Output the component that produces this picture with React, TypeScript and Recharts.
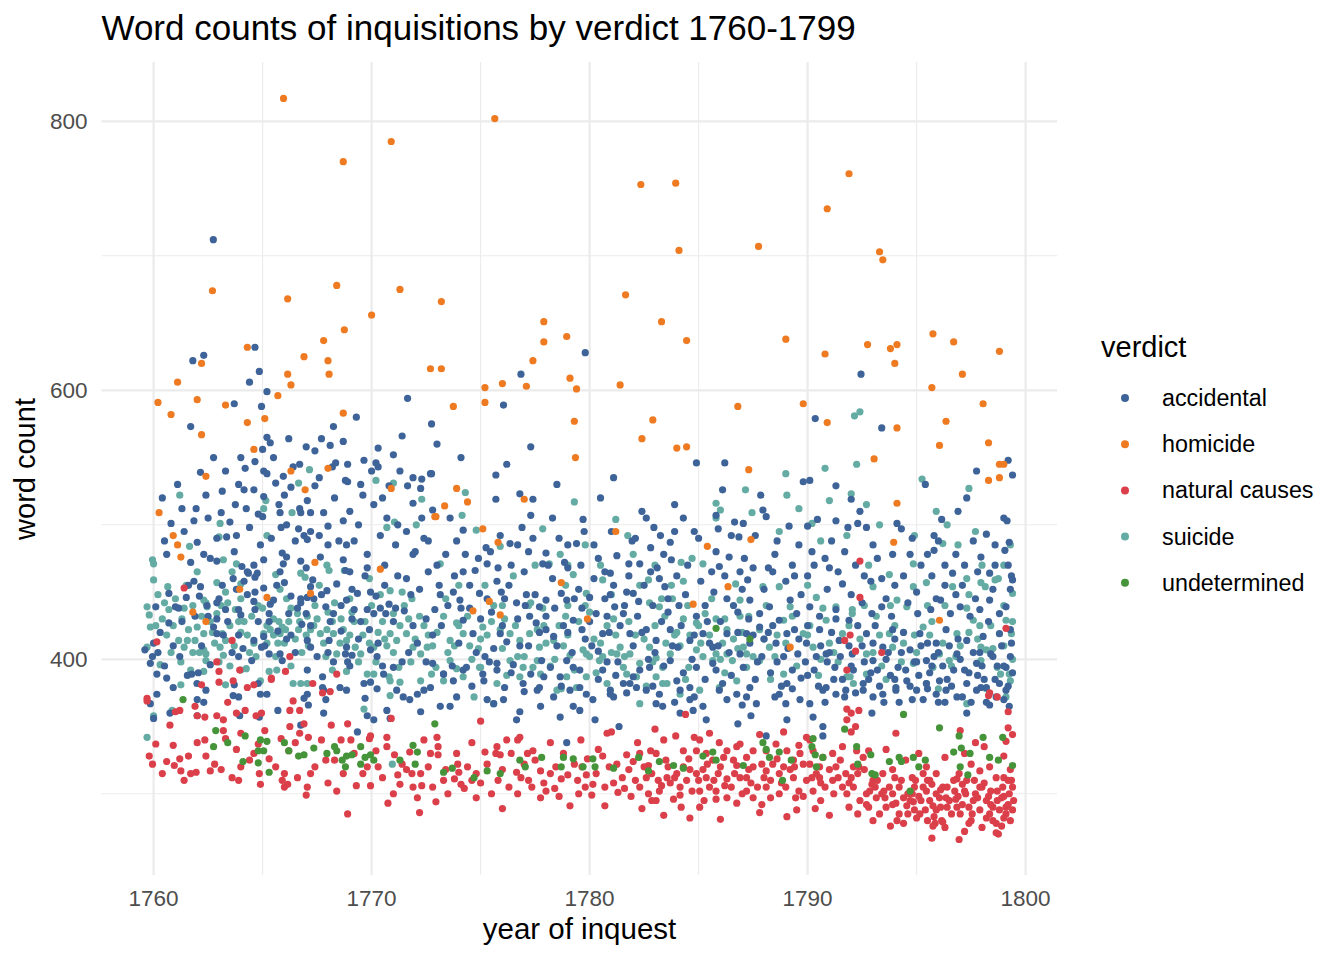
import { ScatterChart, Scatter, XAxis, YAxis, CartesianGrid, Legend } from "recharts";

// [year of inquest, word count]
const accidental: [number, number][] = [
  [1762.74,712],[1761.8,622],[1762.3,626],[1764.65,632],[1764.85,614],[1764.4,606],[1765.2,599],[1763.7,590],[1764.95,588],[1771.65,594],[1776.05,589],[1776.85,612],[1779.8,628],[1792.45,612],[1790.35,579],[1793.4,572],[1786.2,546],[1797.75,540],[1799.2,548],[1799.4,537],[1795.4,530],
  [1761.7,573],[1765.2,565],[1765.35,561],[1766.2,564],[1767.0,558],[1767.7,564],[1768.1,559],[1768.7,562],[1769.3,580],[1768.25,573],[1770.3,557],[1771.4,566],[1772.75,575],[1762.75,550],[1765.0,556],[1764.2,542],[1764.65,547],[1762.15,539],[1765.05,540],[1765.2,538],[1765.95,536],[1766.4,543],[1766.7,545],[1766.3,528],[1765.6,531],[1767.4,529],[1768.2,543],[1768.35,546],[1768.8,533],[1768.9,532],[1769.65,548],[1770.2,546],[1770.3,543],[1769.6,522],[1770.8,529],[1771.65,529],[1772.3,534],[1772.7,538],[1772.25,527],
  [1763.15,525],[1764.15,526],[1764.6,526],[1761.95,512],[1761.85,503],[1760.8,501],[1763.1,509],[1763.75,515],[1764.25,512],[1765.05,521],[1765.0,506],[1765.75,515],[1765.8,509],[1766.7,512],[1766.75,509],[1767.2,509],[1767.05,518],[1767.8,509],[1768.0,499],[1768.7,503],[1766.65,497],[1766.9,492],[1767.05,489],[1767.6,492],[1768.85,485],[1769.2,488],[1765.85,498],[1763.8,492],[1763.35,491],[1762.9,490],[1763.7,480],[1762.3,478],[1762.6,475],[1762.9,473],[1761.7,472],[1760.6,478],
  [1764.05,469],[1764.3,465],[1764.65,461],[1764.75,464],[1765.05,474],[1765.9,479],[1766.1,476],[1765.95,471],[1766.75,473],[1767.0,468],[1767.65,476],[1768.7,474],[1768.8,466],[1761.85,458],[1762.15,454],[1760.7,449],[1762.9,442],[1763.15,455],[1763.65,460],[1764.15,458],[1764.35,464],[1764.65,450],[1765.05,453],[1765.65,455],[1766.75,445],[1767.05,446],[1767.2,454],[1767.95,451],[1769.1,452],[1769.35,449],[1769.95,450],
  [1760.1,439],[1761.0,439],[1761.15,438],[1762.45,440],[1763.3,437],[1762.9,430],[1763.9,437],[1764.0,433],[1764.6,443],[1764.65,437],[1765.35,441],[1765.3,434],[1766.2,434],[1766.75,442],[1767.35,445],[1768.25,434],[1768.85,444],[1769.2,437],[1769.8,437],[1770.1,434],[1770.4,438],[1770.65,434],
  [1762.75,424],[1762.9,419],[1764.6,414],[1765.05,417],[1765.3,404],[1765.8,404],[1765.9,399],[1766.1,415],[1767.05,414],[1767.2,409],[1768.05,414],[1768.25,398],[1768.85,409],[1769.1,403],[1769.95,407],[1770.25,402],[1767.05,392],[1767.75,387],[1768.55,379],[1768.85,377],[1769.65,382],[1769.95,383],[1763.7,381],[1763.9,372],[1761.75,389],[1761.99,382],[1760.6,386],[1760.9,379],[1760.15,389],[1759.95,402],[1759.85,397],[1759.6,407],[1760.0,412],[1761.55,388],[1764.8,382],[1767.05,374],[1767.8,377],[1764.9,374],
  [1760.15,374],[1759.85,367],[1760.0,356],[1762.05,390],[1762.4,377],[1762.0,370],[1762.3,368],[1762.0,358],[1760.75,360],[1763.65,373],[1763.95,358],[1764.85,357],[1764.95,409],[1763.9,402],[1765.2,374],[1765.7,362],[1766.75,351],[1766.9,371],[1767.1,366],[1767.75,379],[1767.9,370],[1767.8,360],[1768.8,404],[1769.35,346],[1769.7,371],[1770.25,378],[1769.8,358],[1770.1,355],[1770.7,362],[1770.85,356],[1770.55,389],[1771.0,394],[1771.15,377],[1771.45,372],[1771.75,370],[1772.25,361],[1772.1,374],[1772.4,377],[1772.7,379],[1773.15,365],[1773.3,389],[1773.75,384],[1773.6,365],[1774.2,392],[1775.15,384],[1775.3,370],[1775.6,367],[1775.75,392],[1776.05,370],[1776.65,355],[1776.95,382],[1777.3,389],[1777.6,377],[1777.75,365],[1778.35,372],[1778.65,387],[1779.1,377],[1779.25,365],[1778.2,394],[1778.95,399],[1779.55,392],[1778.95,338],[1778.65,357],[1776.8,361],[1779.55,362],
  [1777.3,558],[1775.7,537],[1775.7,519],[1776.8,523],[1777.4,519],[1777.3,507],[1772.75,538],[1772.8,511],[1774.2,496],[1773.9,488],[1774.75,466],[1774.2,465],[1775.3,471],[1775.25,483],[1775.45,480],[1776.35,486],[1776.7,485],[1777.2,480],[1778.0,479],[1777.85,471],[1779.4,486],[1779.0,485],[1778.85,472],[1779.7,504],[1779.75,495],[1780.95,464],[1780.7,465],[1781.25,477],[1781.8,471],[1782.3,471],[1781.95,488],[1782.8,483],[1783.25,492],[1783.7,487],[1783.75,474],[1782.95,498],[1784.3,505],[1784.8,495],[1786.1,526],[1785.8,507],[1785.9,497],[1786.65,502],[1787.05,501],[1786.85,491],[1786.9,465],[1785.8,480],[1785.95,469],[1787.25,459],[1783.2,460],[1783.45,454],[1782.0,449],[1782.25,443],[1780.95,448],[1781.15,439],[1780.0,446],[1779.65,438],[1778.95,444],[1778.7,449],[1778.0,444],[1777.7,439],[1777.05,440],[1776.65,442],[1775.95,450],[1775.75,458],[1774.95,449],[1773.75,450],[1774.05,444],[1773.15,448],[1772.9,437],
  [1774.2,429],[1774.65,419],[1775.9,419],[1776.2,413],[1777.25,432],[1777.55,427],[1778.0,422],[1778.35,417],[1779.25,429],[1779.65,422],[1780.3,434],[1780.6,419],[1781.55,434],[1781.85,419],[1782.6,422],[1783.05,414],[1783.7,422],[1784.05,409],[1784.6,414],[1785.2,419],[1785.65,409],[1786.3,419],[1786.9,404],[1787.35,412],[1772.8,397],[1773.3,389],[1774.35,394],[1775.1,389],[1775.75,397],[1776.1,379],[1777.0,376],[1777.7,379],[1779.25,394],[1779.55,379],[1780.6,392],[1780.95,374],[1781.55,382],[1782.0,387],[1782.75,394],[1783.2,374],[1783.7,399],[1784.0,384],[1784.6,379],[1784.9,394],[1785.65,397],[1786.1,382],[1787.05,394],[1787.35,379],
  [1784.9,546],[1780.5,520],[1782.4,510],[1783.9,515],[1781.1,535],[1778.5,530],[1776.2,545],[1774.1,550],[1773.0,560],[1771.0,552],[1770.0,540],[1771.9,516],[1773.6,505],[1776.9,498],[1778.3,505],[1780.2,485],[1782.6,505],
  [1787.85,522],[1789.8,532],[1790.1,533],[1791.3,529],[1792.0,519],[1792.4,510],[1790.0,499],[1787.95,511],[1788.1,506],[1789.15,499],[1790.45,504],[1791.3,503],[1791.85,498],[1792.3,501],[1792.7,498],[1794.1,501],[1794.3,497],[1796.15,504],[1795.8,492],[1795.8,481],[1798.2,493],[1799.15,503],[1799.25,487],[1799.05,481],[1797.95,476],[1795.7,462],[1796.3,455],[1796.65,464],[1798.35,464],[1799.35,462],[1799.4,459],
  [1797.3,520],[1796.9,510],[1793.0,485],[1794.7,478],[1792.2,470],[1790.8,475],[1789.6,485],[1788.5,478],[1787.6,492],[1799.0,505],[1798.6,470],[1797.6,488],[1796.8,478],[1795.2,470],[1793.4,460],[1791.6,456],[1790.0,462],[1788.2,468],[1786.4,476],
  [1787.35,444],[1787.8,434],[1788.25,439],[1788.7,429],[1789.2,444],[1789.5,434],[1790.1,439],[1790.55,432],[1791.3,437],[1791.9,429],[1792.5,442],[1792.95,434],[1793.4,439],[1793.85,432],[1794.6,442],[1795.05,434],[1795.65,437],[1796.1,444],[1796.55,434],[1797.0,439],[1797.45,432],[1797.9,437],[1798.35,444],[1798.8,434],[1799.1,439],
  [1787.2,419],[1787.8,424],[1788.55,412],[1789.05,419],[1789.55,404],[1789.95,412],[1790.55,422],[1790.85,404],[1791.25,394],[1791.45,414],[1792.05,404],[1792.7,419],[1793.0,399],[1793.45,409],[1793.9,422],[1794.15,394],[1794.7,407],[1795.15,419],[1795.45,399],[1795.9,412],[1796.35,422],[1796.85,404],[1797.3,414],[1797.75,397],[1798.05,417],[1798.4,404],[1798.8,419],[1799.1,394],[1799.35,412],[1789.05,382],[1790.7,377],[1792.55,382],[1794.05,379],[1796.05,384],[1797.95,379],[1798.8,382],
  [1780.25,355],[1781.35,350],[1785.35,355],[1786.8,352],[1787.4,358],[1789.05,355],[1790.25,357],[1790.7,350],[1790.7,343],[1788.1,343],[1792.95,360],[1797.3,360],[1798.35,366],[1799.25,365],[1784.15,360],[1784.75,362],[1785.2,365],[1783.05,367],[1783.35,365],[1781.85,382],[1782.15,379],[1782.6,377],[1780.95,377],[1781.1,372],[1779.85,374],[1780.15,370],[1784.15,377],[1784.6,370],[1785.95,377],[1786.3,370],[1786.75,374],[1787.2,372],[1787.65,367],[1788.7,374],[1789.0,367],[1789.65,370],[1790.1,367],[1790.85,379],[1791.3,374],[1791.75,377],[1792.55,377],[1793.0,372],[1793.45,374],[1794.05,377],[1794.55,384],[1795.0,377],[1795.45,382],[1795.9,374],[1796.35,377],[1796.85,372],[1797.3,382],[1797.75,377],[1798.2,379],[1798.65,372],[1799.1,377],
  [1760.3,420],[1760.5,395],[1760.9,410],[1761.3,428],[1761.5,446],[1761.9,432],[1762.2,410],[1762.6,396],[1763.0,445],[1763.4,428],[1763.6,405],[1763.9,418],[1764.3,448],[1764.5,399],[1764.8,428],[1765.1,410],[1765.5,444],[1765.7,421],[1766.0,457],[1766.3,447],[1766.5,405],[1766.8,426],[1767.0,434],[1767.3,459],[1767.5,402],[1767.9,439],[1768.1,428],[1768.4,456],[1768.6,421],[1768.9,398],[1769.1,430],[1769.4,415],[1769.7,462],[1769.9,422],[1770.2,447],[1770.5,395],[1770.8,441],[1771.0,428],[1771.2,462],[1771.5,436],[1771.7,405],[1771.9,425],[1772.2,452],[1772.5,430],[1772.8,418],
  [1760.4,520],[1761.1,530],[1761.4,495],[1762.0,487],[1762.5,505],[1763.3,540],[1763.9,530],[1764.4,498],[1764.9,485],[1765.4,490],[1766.0,522],[1766.5,488],[1767.2,495],[1767.6,535],[1768.3,520],[1768.5,488],[1769.0,510],[1769.4,500],[1769.8,478],[1770.1,515],[1770.4,492],[1770.7,505],[1771.1,485],[1771.3,540],[1771.6,495],[1771.9,478],[1772.3,505],[1772.6,488],[1769.0,465],[1770.6,470],[1771.6,460],[1772.0,480],
  [1773.0,470],[1773.2,425],[1773.5,440],[1773.8,462],[1774.0,412],[1774.3,478],[1774.5,438],[1774.8,405],[1775.0,430],[1775.3,445],[1775.6,408],[1775.8,468],[1776.0,425],[1776.3,455],[1776.5,396],[1776.7,430],[1777.0,465],[1777.2,410],[1777.5,448],[1777.8,399],[1778.0,432],[1778.3,460],[1778.5,410],[1778.8,425],[1779.0,468],[1779.2,405],[1779.5,452],[1779.8,415],[1780.0,428],[1780.2,460],[1780.4,406],[1780.7,445],[1780.9,420],[1781.1,455],[1781.3,398],[1781.6,440],[1781.8,462],[1782.0,410],[1782.2,432],[1782.5,455],[1782.7,400],[1782.9,440],[1783.1,468],[1783.3,428],[1783.6,445],[1783.8,410],[1784.0,462],[1784.2,425],[1784.4,448],[1784.7,400],[1784.9,432],[1785.1,458],[1785.3,440],[1785.5,412],[1785.7,450],[1786.0,428],[1786.2,462],[1786.4,405],[1786.6,440],[1786.8,420],[1787.0,452],[1787.3,430],[1787.5,468],
  [1787.6,385],[1787.9,402],[1788.0,415],[1788.3,390],[1788.4,425],[1788.6,398],[1788.8,380],[1789.1,408],[1789.3,392],[1789.4,422],[1789.7,386],[1789.9,398],[1790.0,425],[1790.3,392],[1790.5,380],[1790.6,410],[1790.9,398],[1791.1,420],[1791.2,385],[1791.5,402],[1791.7,372],[1791.9,410],[1792.1,392],[1792.3,425],[1792.6,398],[1792.8,385],[1793.0,412],[1793.2,392],[1793.3,380],[1793.6,400],[1793.8,388],[1794.0,415],[1794.2,368],[1794.3,405],[1794.5,392],[1794.7,380],[1794.9,398],[1795.1,388],[1795.3,370],[1795.5,412],[1795.6,390],[1795.8,402],[1796.0,368],[1796.2,395],[1796.4,385],[1796.5,410],[1796.7,392],[1797.0,400],[1797.1,372],[1797.4,390],[1797.6,405],[1797.8,388],[1798.0,395],[1798.2,368],[1798.5,402],[1798.6,385],[1798.9,410],[1799.0,395],[1799.2,380],[1799.3,402],[1799.4,390],
  [1780.4,385],[1780.8,398],[1781.2,388],[1781.7,375],[1782.3,392],[1782.9,380],[1783.4,395],[1783.9,368],[1784.3,390],[1784.8,372],[1785.3,385],[1785.8,392],[1786.5,388],[1787.0,366],[1776.4,390],[1777.9,387],[1778.7,380],[1775.4,398],[1774.6,380],[1773.9,372],[1772.5,398],
  [1788.0,452],[1788.4,465],[1789.0,458],[1789.7,448],[1790.3,470],[1790.9,452],[1791.4,465],[1792.0,448],[1792.9,458],[1793.6,445],[1794.4,462],[1795.0,450],[1795.9,445],[1796.8,448],[1797.2,470],[1797.7,445],[1798.5,452],[1799.2,470],[1791.1,488],[1789.3,470],[1793.9,478],[1796.0,488],
  [1760.2,405],[1760.7,427],[1761.2,402],[1761.6,455],[1762.1,447],[1762.5,432],[1763.2,418],[1763.8,452],[1764.1,408],[1764.6,470],[1765.3,428],[1765.8,465],[1766.3,418],[1766.6,438],[1767.2,425],[1767.7,448],[1768.0,405],[1768.6,440],[1769.0,395],[1769.5,428],[1769.8,468],[1770.3,412],[1770.6,455],[1771.1,438],[1771.4,398],[1771.8,448],[1772.1,412],[1772.6,465],
  [1760.5,488],[1761.3,512],[1762.4,522],[1763.5,502],[1764.0,550],[1764.8,508],[1765.5,550],[1766.1,500],[1767.4,555],[1768.0,485],[1768.9,545],[1769.5,530],[1770.5,520],[1771.2,500],[1771.9,535],[1772.4,490],
  [1773.1,455],[1773.4,478],[1773.7,395],[1774.1,438],[1774.5,455],[1774.9,475],[1775.2,402],[1775.5,435],[1775.9,492],[1776.1,445],[1776.4,470],[1776.8,410],[1777.1,448],[1777.4,490],[1777.7,420],[1778.1,470],[1778.4,438],[1778.6,490],[1779.0,420],[1779.3,445],[1779.6,470],[1780.1,410],[1780.4,475],[1780.8,432],[1781.0,495],[1781.4,425],[1781.7,450],[1782.1,490],[1782.4,420],[1782.8,465],[1783.0,405],[1783.4,478],[1783.6,435],[1783.9,495],[1784.1,440],[1784.5,470],[1784.8,418],[1785.0,490],[1785.4,428],[1785.6,465],[1785.9,410],[1786.3,445],[1786.5,492],[1786.8,435],[1787.1,475],[1787.5,418],
  [1787.7,398],[1788.2,420],[1788.5,372],[1788.9,402],[1789.3,378],[1789.6,415],[1790.0,388],[1790.4,402],[1790.8,368],[1791.0,405],[1791.3,430],[1791.6,385],[1792.0,395],[1792.2,375],[1792.5,410],[1792.9,390],[1793.1,425],[1793.5,368],[1793.7,405],[1794.0,385],[1794.4,420],[1794.8,370],[1795.0,398],[1795.2,410],[1795.5,378],[1795.7,395],[1796.0,405],[1796.3,368],[1796.6,380],[1796.9,415],[1797.2,392],[1797.5,368],[1797.9,405],[1798.1,385],[1798.3,428],[1798.7,395],[1799.0,370],[1799.3,422],
  [1788.6,488],[1789.4,462],[1790.2,480],[1791.0,468],[1791.7,480],[1792.6,462],[1793.2,475],[1794.0,455],[1794.8,490],[1795.5,478],[1796.3,470],[1797.1,455],[1797.8,465],[1798.6,485],[1799.3,452],
];

const homicide: [number, number][] = [
  [1765.96,817],[1770.9,785],[1768.7,770],[1775.65,802],[1782.35,753],[1783.95,754],[1784.1,704],[1790.9,735],[1791.9,761],[1787.75,707],[1793.3,703],[1793.45,697],
  [1762.7,674],[1766.15,668],[1768.4,678],[1771.3,675],[1773.2,666],[1781.65,671],[1783.3,651],[1784.45,637],[1789.0,638],[1790.8,627],[1792.75,634],[1794.1,634],[1793.8,631],[1794.0,620],[1795.75,642],[1796.7,636],[1798.8,629],[1797.1,612],[1795.7,602],
  [1770.0,656],[1768.75,645],[1767.8,637],[1766.9,625],[1768.0,622],[1766.15,612],[1766.3,604],[1768.05,612],[1764.3,632],[1762.2,620],[1761.1,606],[1762.0,593],[1760.2,591],[1763.3,589],[1765.7,596],[1772.7,616],[1773.2,616],[1775.2,602],[1776.0,605],[1775.2,591],[1773.75,588],[1777.9,651],[1777.9,636],[1778.95,640],[1777.4,622],[1777.1,603],[1779.1,609],[1779.4,601],[1781.4,604],
  [1782.9,578],[1782.4,564],[1784.0,557],[1784.45,558],[1787.3,541],[1786.8,588],[1789.8,590],[1790.9,576],[1794.1,572],[1793.05,549],[1796.35,577],[1796.05,559],[1798.05,590],[1798.3,561],[1798.8,545],[1799.0,545],[1798.3,533],[1798.8,535],[1794.1,516],[1793.95,487],[1787.4,489],[1796.05,429],[1789.2,409],
  [1779.3,577],[1779.35,550],[1773.9,527],[1773.35,514],[1772.95,506],[1774.4,517],[1775.1,497],[1775.8,487],[1777.0,519],[1781.2,495],[1785.4,484],[1778.7,457],[1775.4,443],[1774.65,436],[1775.9,433],[1779.9,430],[1784.75,441],[1786.35,454],
  [1760.8,582],[1762.2,567],[1764.3,576],[1765.1,579],[1764.6,556],[1762.4,536],[1760.25,509],[1760.9,492],[1761.1,485],[1761.25,476],[1768.7,583],[1766.3,540],[1766.95,526],[1768.0,542],[1770.9,527],[1772.9,506],[1770.4,467],[1761.8,435],[1762.4,428],[1763.95,452],[1765.2,446],[1767.4,472],[1767.2,449],
];

const naturalCauses: [number, number][] = [
  [1759.7,369],[1759.8,328],[1759.95,322],[1760.1,337],[1760.6,324],[1760.95,321],[1761.2,326],[1761.25,317],[1761.7,315],[1761.95,316],[1762.6,317],[1761.0,361],[1761.2,362],[1760.75,351],[1761.9,365],[1762.0,358],[1762.35,357],[1762.35,340],[1762.9,398],[1763.0,391],[1763.0,383],[1762.2,381],[1763.4,368],[1762.9,358],[1763.2,355],[1763.2,347],[1763.3,341],[1763.65,384],[1763.95,392],[1763.8,360],[1763.8,333],[1764.0,320],[1763.9,310],[1764.2,362],[1764.3,379],[1764.6,381],[1764.7,358],[1765.1,347],[1764.8,337],[1764.85,315],[1764.9,307],[1764.95,360],[1765.4,385],[1766.25,402],[1766.25,362],[1766.7,362],[1766.25,350],[1766.4,369],[1765.85,341],[1766.2,332],[1766.0,315],[1766.0,305],[1766.15,307],[1767.0,299],[1767.05,305],[1766.7,345],[1767.1,342],[1767.7,340],[1767.3,382],[1767.75,375],[1768.1,376],[1768.15,351],[1768.4,389],[1768.9,352],[1769.05,340],[1768.7,315],[1768.9,285],[1769.3,306],[1769.9,341],[1769.95,343],[1769.95,306],
  [1770.7,342],[1770.7,335],[1770.9,356],[1770.75,293],[1771.05,329],[1771.3,307],[1771.2,314],[1771.75,331],[1772.1,297],[1772.2,286],[1771.85,315],[1772.3,306],[1772.25,315],[1772.8,305],[1772.95,294],[1773.0,342],[1773.05,335],[1773.05,329],[1773.9,330],[1773.95,322],[1773.8,311],[1774.1,307],[1774.25,304],[1773.3,310],[1774.8,315],[1774.8,297],[1775.0,354],[1775.2,331],[1775.75,335],[1775.7,330],[1775.9,329],[1776.0,289],[1776.2,340],[1776.7,340],[1776.8,342],[1776.65,316],[1776.85,312],[1777.2,310],[1777.35,305],[1777.15,330],[1777.4,332],[1777.75,297],[1776.7,300],[1777.75,317],[1778.2,315],[1778.4,304],[1778.45,320],[1779.1,291],[1778.7,311],[1779.0,314],[1779.6,340],[1779.65,320],[1779.8,305],[1779.45,310],
  [1761.4,453],[1763.6,414],[1760.15,413],[1765.4,386],[1766.05,391],[1759.7,371],
  [1780.8,345],[1779.85,314],[1780.15,307],[1780.7,305],[1780.7,291],[1781.25,322],[1781.3,301],[1781.7,329],[1782.0,324],[1782.3,330],[1782.8,332],[1783.05,330],[1782.7,321],[1782.85,315],[1783.15,310],[1783.55,312],[1783.3,306],[1783.6,320],[1784.0,315],[1782.7,300],[1782.85,295],[1783.05,295],[1783.85,296],[1784.15,299],[1783.4,340],[1783.95,343],[1784.3,332],[1784.55,326],[1784.45,310],[1784.15,305],
  [1784.8,342],[1785.05,340],[1784.9,332],[1785.35,330],[1785.65,325],[1785.95,338],[1786.3,332],[1786.75,335],[1786.75,321],[1787.2,327],[1787.5,332],[1784.9,315],[1785.35,312],[1785.9,315],[1786.3,311],[1786.65,315],[1787.2,312],[1787.5,320],[1785.05,302],[1785.25,295],[1785.8,302],[1786.3,297],[1786.75,293],[1787.2,302],[1787.5,297],[1786.9,337],[1786.15,327],[1785.05,290],[1785.5,305],
  [1788.1,332],[1788.55,337],[1789.05,332],[1789.35,325],[1789.95,342],[1790.25,332],[1790.1,322],[1790.55,320],[1788.1,317],[1788.7,315],[1789.35,312],[1789.95,310],[1790.55,312],[1788.1,305],[1788.7,300],[1789.45,297],[1790.25,302],[1789.05,283],[1790.35,289],[1788.3,297],[1788.9,320],[1789.65,330],[1790.7,327],[1790.1,340],
  [1791.15,330],[1791.6,335],[1792.25,332],[1791.3,320],[1791.75,315],[1792.35,320],[1792.8,332],[1793.0,310],[1791.15,310],[1791.6,305],[1792.1,305],[1792.7,300],[1793.15,297],[1792.8,290],[1793.3,285],[1792.95,307],[1793.45,315],[1792.55,327],[1792.1,320],[1792.85,302],[1793.55,297],[1793.75,305],[1794.05,293],[1794.2,285],[1794.1,280],[1794.4,297],[1794.55,291],[1794.8,312],[1794.8,300],
  [1794.95,310],[1795.3,315],[1795.45,302],[1795.6,295],[1795.75,291],[1795.9,288],[1796.05,297],[1796.2,305],[1796.35,297],[1796.5,295],[1795.15,285],[1795.85,278],[1796.15,280],[1794.85,294],[1796.85,311],[1796.75,302],[1796.85,290],[1795.7,307],[1795.9,315],[1795.45,320],
  [1796.95,315],[1797.1,307],[1797.25,300],[1797.4,290],[1797.55,285],[1797.8,297],[1798.0,305],[1798.2,295],[1798.35,285],[1798.5,290],[1798.65,278],[1798.75,270],[1798.9,297],[1798.95,305],[1799.1,290],[1799.25,300],[1799.35,310],[1797.9,317],[1798.65,312],[1798.35,320],[1796.95,266],[1795.75,276],[1796.2,279],[1799.1,285],[1797.65,310],[1799.45,295],[1795.7,267],[1798.65,271],
  [1792.4,473],[1792.4,446],[1791.95,418],[1791.7,414],[1792.2,406],[1793.4,405],[1791.8,392],[1799.1,423],[1798.3,373],[1798.7,372],[1784.4,359],[1791.8,363],[1792.0,360],[1792.35,362],[1791.8,355],[1792.2,350],[1792.0,346],[1798.35,375],[1799.2,361],[1799.2,349],[1799.4,344],[1799.1,339],[1797.0,347],[1797.7,338],[1794.05,345],
  [1781.0,346],[1783.0,348],[1785.5,345],[1787.8,344],[1788.9,346],[1789.6,336],[1782.2,338],[1780.4,333],[1793.6,333],[1794.5,325],[1795.1,330],[1796.3,327],[1797.2,330],[1798.1,335],[1799.0,328],[1793.9,318],[1797.5,322],[1799.3,318],
  [1784.6,282],[1786.0,281],[1787.8,286],[1789.5,288],[1791.0,284],[1791.9,290],[1793.8,276],[1792.3,285],[1790.6,295],[1787.9,292],[1782.4,289],[1780.1,299],[1781.6,304],[1783.4,284],
  [1760.4,315],[1761.6,328],[1762.8,322],[1763.6,312],[1764.4,325],[1765.6,320],[1766.6,312],[1767.4,320],[1768.0,308],[1768.3,325],[1769.6,315],[1770.3,320],[1771.0,300],[1771.6,318],[1772.6,320],[1773.5,300],[1774.4,320],[1775.0,308],[1775.5,300],[1776.0,318],[1777.0,322],[1777.9,308],[1778.6,298],[1779.3,322],[1762.0,338],[1764.0,345],[1766.9,352],[1768.6,340],[1770.2,332],[1772.4,340],[1774.6,338],[1776.4,330],[1778.2,338],
  [1780.3,315],[1780.9,320],[1781.5,312],[1781.9,298],[1782.1,310],[1782.5,320],[1783.2,302],[1783.7,308],[1784.3,320],[1784.7,302],[1785.2,318],[1785.7,310],[1786.0,320],[1786.5,305],[1786.9,312],[1787.3,318],[1787.7,305],[1788.0,312],[1788.4,322],[1788.8,308],[1789.2,318],[1789.6,302],[1789.8,322],[1790.4,315],[1790.8,305],[1791.0,318],[1791.4,312],[1791.8,300],[1792.0,312],[1792.4,295],[1792.6,318],[1793.1,305],[1793.6,290],[1793.9,300],[1794.3,310],[1794.6,285],[1794.9,305],[1795.2,295],[1795.4,288],[1795.6,310],[1795.9,300],[1796.1,290],[1796.4,305],[1796.6,285],[1796.9,298],[1797.1,292],[1797.3,310],[1797.5,280],[1797.7,300],[1797.9,288],[1798.1,308],[1798.3,298],[1798.5,280],[1798.7,302],[1798.8,288],[1799.0,298],[1799.2,292],[1799.4,305],[1793.4,300],[1794.0,312],[1795.0,282],[1796.3,275],[1797.2,272],[1798.0,275],[1799.3,280],[1794.7,295],[1795.3,305],[1796.8,296],[1798.4,292],[1799.0,312],
  [1760.9,336],[1761.4,310],[1762.4,328],[1763.1,318],[1764.6,330],[1765.3,326],[1765.9,310],[1766.5,338],[1767.2,315],[1767.9,325],[1768.4,302],[1769.2,330],[1769.8,320],[1770.5,312],[1771.4,322],[1771.9,305],[1772.7,330],[1773.4,318],[1774.0,316],[1774.6,310],[1775.3,322],[1775.8,310],[1776.3,305],[1777.5,325],[1778.0,302],[1778.8,330],[1779.5,300],[1779.9,326],
  [1780.6,328],[1781.1,308],[1781.8,318],[1782.3,305],[1782.6,312],[1783.5,325],[1783.9,312],[1784.2,290],[1784.6,318],[1785.0,310],[1785.4,322],[1785.8,296],[1786.2,306],[1786.6,325],[1787.0,300],[1787.4,308],[1787.9,322],[1788.3,310],[1788.6,326],[1789.0,305],[1789.4,320],[1789.8,298],[1790.2,312],[1790.6,308],[1791.2,300],[1791.5,325],[1791.9,308],[1792.3,315],[1792.7,292],[1793.2,310],[1793.5,302],[1793.9,292],[1794.2,305],[1794.6,300],[1794.9,288],[1795.1,298],[1795.5,310],[1795.8,283],[1796.1,303],[1796.4,290],[1796.7,310],[1797.0,285],[1797.2,302],[1797.6,295],[1797.9,305],[1798.2,282],[1798.4,302],[1798.7,295],[1799.0,282],[1799.2,310],[1799.4,288],[1793.0,280],[1795.5,280],[1797.4,278],[1798.9,276],[1794.4,278],
];

const suicide: [number, number][] = [
  [1792.15,581],[1792.4,584],[1789.0,538],[1790.8,542],[1792.25,545],[1795.25,534],[1787.15,526],[1789.05,522],[1792.0,523],[1791.0,518],[1792.7,515],[1787.45,509],[1796.4,500],[1794.9,492],[1796.2,486],[1794.85,471],[1793.75,463],[1795.45,457],[1797.3,460],[1797.95,457],[1798.75,460],[1799.4,449],[1790.2,501],[1786.0,511],[1785.8,516],[1785.8,505],[1786.7,456],[1786.9,444],
  [1761.2,522],[1759.95,474],[1760.0,471],[1760.0,459],[1760.65,454],[1761.65,484],[1762.0,465],[1762.3,444],[1762.4,442],[1763.05,501],[1763.0,491],[1763.2,474],[1763.3,450],[1762.9,457],[1763.8,471],[1764.0,456],[1765.15,518],[1765.05,512],[1765.2,492],[1765.6,463],[1766.35,509],[1766.65,531],[1767.15,541],[1766.75,464],[1766.95,461],[1767.95,470],[1768.05,466],[1768.75,466],[1769.9,460],[1770.2,533],[1771.0,531],[1772.3,519],[1770.7,498],[1771.05,502],[1772.05,500],[1770.4,448],[1770.85,451],[1771.4,450],[1771.85,445],
  [1759.7,439],[1759.8,433],[1759.85,424],[1760.1,425],[1760.7,437],[1761.15,414],[1761.55,414],[1761.9,414],[1761.25,398],[1761.4,409],[1762.0,424],[1762.3,419],[1762.3,407],[1762.4,399],[1762.45,439],[1762.9,434],[1763.15,419],[1763.3,414],[1763.2,403],[1763.05,409],[1763.75,437],[1764.0,420],[1764.15,428],[1764.25,393],[1764.6,412],[1765.05,419],[1765.35,422],[1765.5,430],[1765.75,428],[1765.8,419],[1765.9,424],[1766.05,422],[1766.2,428],[1766.6,434],[1766.65,422],[1767.05,432],[1767.2,422],[1767.35,425],[1767.65,419],[1767.95,422],[1768.25,419],[1768.55,412],[1768.85,414],[1769.25,409],[1769.5,404],[1770.1,409],[1770.85,419],[1771.15,414],[1771.6,419],[1771.9,409],[1772.25,404],[1772.55,409],[1771.0,434],[1771.25,394],[1770.8,387],[1769.8,389],[1767.05,382],[1766.4,382],[1764.0,392],[1763.3,381],[1761.25,381],[1759.7,409],
  [1759.7,342],[1760.0,358],[1760.85,362],[1762.3,391],[1762.4,404],[1764.9,384],[1765.3,391],[1765.65,392],[1766.75,382],[1768.85,391],[1769.65,363],[1770.85,373],[1770.1,389],[1770.85,384],[1771.3,383],[1772.25,384],[1772.75,389],[1773.3,384],[1773.9,393],[1774.7,372],[1775.0,394],[1775.6,367],[1776.95,394],[1777.6,399],[1777.75,389],[1778.95,387],[1778.7,378],[1770.95,322],
  [1774.3,524],[1774.15,507],[1773.15,471],[1774.8,496],[1775.9,484],[1777.85,497],[1779.3,517],[1779.8,485],[1778.65,478],[1778.15,471],[1779.25,463],[1781.2,504],[1781.75,492],[1782.3,455],[1782.7,459],[1783.75,455],[1784.3,458],[1784.2,472],[1784.7,475],[1785.2,471],[1777.3,442],[1777.85,438],[1779.0,440],[1779.8,440],[1779.85,449],[1780.6,459],[1782.75,442],[1783.2,439],[1783.45,432],[1784.3,430],[1784.9,427],[1785.3,434],[1785.8,430],[1786.3,422],[1786.9,432],
  [1773.3,432],[1773.9,427],[1774.2,419],[1773.6,414],[1775.1,424],[1775.3,418],[1775.9,422],[1776.35,419],[1776.8,414],[1777.25,419],[1777.7,409],[1778.35,414],[1778.8,410],[1779.1,403],[1779.7,407],[1780.0,402],[1780.6,402],[1781.0,405],[1781.4,409],[1781.85,404],[1782.3,397],[1782.75,409],[1783.05,401],[1783.35,394],[1783.7,404],[1784.15,410],[1784.55,394],[1784.9,407],[1785.2,402],[1785.8,404],[1786.1,412],[1786.55,399],[1787.05,409],[1787.5,402],[1783.35,382],[1784.15,374],[1785.05,377],[1785.95,379],
  [1772.95,394],[1773.6,399],[1774.2,387],[1774.95,394],[1775.75,382],[1776.35,399],[1776.8,387],[1777.4,394],[1778.5,377],[1779.4,379],[1779.85,387],[1780.8,382],[1781.55,394],[1782.15,387],
  [1779.85,404],[1780.45,399],[1781.25,404],[1781.7,389],[1782.3,367],[1783.05,387],[1783.55,382],[1785.65,399],[1786.3,404],[1786.75,384],[1787.2,404],[1787.8,399],[1791.8,387],[1792.1,382],[1792.7,389],[1793.9,409],[1794.85,397],[1795.75,394],[1796.5,399],[1797.3,367],[1797.95,409],[1798.85,389],[1799.3,384],[1797.95,399],[1798.7,394],
  [1787.8,422],[1788.25,409],[1788.9,429],[1789.8,419],[1790.25,409],[1790.85,429],[1791.6,419],[1792.05,437],[1792.7,404],[1793.15,432],[1793.75,419],[1794.55,439],[1795.3,424],[1796.05,404],[1796.85,419],[1797.6,429],[1798.2,407],[1799.25,389],[1799.35,419],[1799.1,429],[1787.2,394],[1788.9,389],[1791.95,387],[1795.45,382],
  [1787.95,454],[1788.7,454],[1789.2,439],[1790.4,446],[1791.3,439],[1792.05,434],[1793.0,454],[1794.1,444],[1794.85,454],[1796.65,454],[1797.4,448],[1798.15,454],[1798.6,459],
  [1776.5,462],[1775.2,455],[1777.5,470],[1778.9,455],[1780.5,470],[1782.0,478],[1783.0,470],[1789.6,512],[1788.7,495],[1790.6,488],[1791.8,492],[1793.3,500],[1795.9,510],[1797.7,495],[1799.0,470],[1797.4,527],
  [1760.2,448],[1760.4,430],[1760.6,418],[1760.8,405],[1761.0,445],[1761.3,430],[1761.6,422],[1761.8,440],[1762.1,405],[1762.6,428],[1762.8,412],[1763.1,440],[1763.5,425],[1763.7,410],[1764.0,445],[1764.3,418],[1764.5,432],[1764.7,402],[1765.0,438],[1765.2,412],[1765.5,418],[1765.6,402],[1766.0,412],[1766.3,438],[1766.5,415],[1766.8,405],[1767.0,418],[1767.5,430],[1767.8,412],[1768.0,435],[1768.2,428],[1768.4,404],[1768.7,422],[1769.0,418],[1769.2,428],[1769.6,418],[1769.9,412],[1770.3,420],[1770.5,428],[1770.7,410],[1771.3,425],[1771.7,430],[1772.0,415],[1772.4,425],[1772.8,410],[1761.5,455],[1763.6,465],[1765.8,452],[1767.6,455],[1769.0,445],[1760.3,396],[1761.7,392],[1763.5,395],[1766.3,395],[1768.2,392],[1770.2,398],
  [1773.0,420],[1773.5,405],[1774.0,425],[1774.5,410],[1775.0,415],[1775.5,428],[1776.0,408],[1776.6,425],[1777.0,402],[1777.6,422],[1778.0,412],[1778.6,425],[1779.0,418],[1779.5,428],[1780.2,415],[1780.8,425],[1781.2,418],[1781.8,428],[1782.5,415],[1783.0,425],[1783.5,412],[1784.0,420],[1784.6,418],[1785.0,425],[1785.5,418],[1786.0,400],[1786.6,415],[1787.0,420],[1774.6,400],[1776.2,388],[1778.2,395],[1780.3,390],[1782.6,380],[1784.4,385],[1786.2,390],[1779.0,470],[1781.0,448],[1783.8,445],[1776.0,440],[1774.0,455],
  [1788.0,415],[1788.5,402],[1789.0,412],[1789.5,395],[1790.0,418],[1790.6,400],[1791.0,412],[1791.4,398],[1792.4,415],[1793.0,405],[1793.4,395],[1794.0,425],[1794.4,412],[1795.0,405],[1795.6,418],[1796.2,412],[1796.6,395],[1797.0,410],[1797.4,420],[1797.8,415],[1798.4,425],[1799.0,410],[1799.4,400],[1788.3,385],[1790.5,388],[1793.6,385],[1796.0,378],[1798.2,378],[1799.1,372],[1790.0,455],[1792.8,470],[1795.5,440],[1798.0,470],[1799.3,485],[1796.9,485],
  [1760.5,442],[1760.9,425],[1761.4,438],[1761.8,405],[1762.2,432],[1762.7,420],[1763.0,398],[1763.4,442],[1763.9,428],[1764.4,405],[1764.8,440],[1765.2,425],[1765.7,412],[1766.1,445],[1766.7,428],[1767.1,410],[1767.4,440],[1767.9,402],[1768.3,442],[1768.6,430],[1769.1,435],[1769.4,398],[1769.7,428],[1770.0,440],[1770.6,415],[1771.0,405],[1771.5,440],[1771.8,398],[1772.2,432],[1772.6,418],
  [1773.4,445],[1773.8,410],[1774.4,432],[1774.9,408],[1775.6,440],[1776.1,430],[1776.7,402],[1777.2,440],[1777.9,425],[1778.4,400],[1778.9,432],[1779.3,392],[1780.0,435],[1780.5,412],[1781.1,430],[1781.6,402],[1782.1,418],[1782.9,398],[1783.3,445],[1783.9,418],[1784.5,440],[1785.1,412],[1785.6,445],[1786.2,430],[1786.8,408],[1787.3,432],
  [1788.1,440],[1788.6,418],[1789.3,432],[1790.1,425],[1790.7,438],[1791.2,405],[1791.9,425],[1792.6,440],[1793.3,418],[1793.8,440],[1794.3,398],[1794.9,418],[1795.7,428],[1796.3,440],[1796.8,402],[1797.3,438],[1797.9,425],[1798.5,408],[1799.0,440],[1799.4,428],
];

const undetermined: [number, number][] = [
  [1761.35,370],[1762.85,347],[1762.75,335],[1763.4,338],[1764.2,343],[1764.1,324],[1764.9,340],[1765.2,339],[1764.8,332],[1765.05,332],[1764.8,323],[1765.3,316],[1766.0,338],[1766.2,332],[1766.65,328],[1766.9,329],[1767.35,334],[1767.95,330],[1768.3,335],[1768.4,332],[1768.65,325],[1768.85,328],[1769.1,329],[1768.8,320],[1769.5,335],[1769.7,327],[1769.95,329],[1770.1,325],[1769.5,322],[1771.3,325],[1771.9,336],[1772.1,331],[1772.0,322],[1772.9,352],[1773.3,316],[1773.7,319],[1774.7,312],[1775.3,317],[1775.9,315],[1776.8,325],[1777.05,320],[1777.8,327],[1778.8,327],[1779.25,326],[1778.7,320],[1779.7,320],
  [1780.15,326],[1780.25,320],[1781.1,319],[1782.25,327],[1782.7,317],[1783.2,324],[1783.85,321],[1784.3,319],[1785.2,328],[1785.65,331],[1785.8,325],[1787.05,321],[1787.95,338],[1788.1,333],[1788.25,327],[1788.7,331],[1788.85,310],[1789.25,325],[1790.25,341],[1790.2,335],[1790.35,329],[1790.4,320],[1790.7,327],[1791.7,348],[1792.25,335],[1792.3,322],[1792.9,329],[1792.95,315],[1793.1,314],[1793.75,324],[1794.2,327],[1794.3,324],[1794.85,327],[1794.7,302],[1795.1,320],[1795.4,325],[1796.05,349],[1796.95,343],[1796.7,331],[1797.05,334],[1797.45,330],[1797.0,320],[1797.35,314],[1798.05,342],[1798.35,327],[1798.75,325],[1798.95,342],[1799.4,321],[1794.4,359],[1785.8,423],[1787.35,415],
];

const xTicks = [1760, 1770, 1780, 1790, 1800];
const xMinor = [1765, 1775, 1785, 1795];
const yTicks = [400, 600, 800];
const yMinor = [300, 500, 700];

const verdicts = ["accidental", "homicide", "natural causes", "suicide", "undetermined"];
const COLORS: Record<string, string> = {
  accidental: "#3D6398",
  homicide: "#EE7B22",
  "natural causes": "#DA3F4A",
  suicide: "#64ACA3",
  undetermined: "#45943A",
};

const FONT = "'Liberation Sans', Arial, Helvetica, sans-serif";

const toRows = (pts: [number, number][]) => pts.map(([year, words]) => ({ year, words }));

const dot = (color: string) => (props: any) =>
  <circle cx={props.cx} cy={props.cy} r={3.6} fill={color} />;

const VerdictLegend = () => (
  <svg width={250} height={290} style={{ fontFamily: FONT }}>
    <text x={11} y={27} fontSize={29} fill="#000">verdict</text>
    {verdicts.map((v, i) => (
      <g key={v}>
        <circle cx={35} cy={68 + i * 46.2} r={4} fill={COLORS[v]} />
        <text x={72} y={76 + i * 46.2} fontSize={23.3} fill="#000">{v}</text>
      </g>
    ))}
  </svg>
);

const App = () => {
  const tickStyle = { fill: "#4D4D4D", fontSize: 22.5, fontFamily: FONT };
  return (
    <div style={{ position: "absolute", left: 0, top: 0, width: 1344, height: 960, background: "#fff" }}>
      <ScatterChart
        width={1344}
        height={960}
        margin={{ top: 62, right: 287, bottom: 45, left: 41.5 }}
      >
        <CartesianGrid horizontalValues={yMinor} verticalValues={xMinor} stroke="#EBEBEB" strokeWidth={1.1} />
        <CartesianGrid horizontalValues={yTicks} verticalValues={xTicks} stroke="#EBEBEB" strokeWidth={2.2} />
        <XAxis
          type="number"
          dataKey="year"
          domain={[1757.61, 1801.44]}
          ticks={xTicks}
          allowDataOverflow
          axisLine={false}
          tickLine={false}
          tickSize={0}
          tickMargin={15}
          height={40}
          tick={tickStyle}
        />
        <YAxis
          type="number"
          dataKey="words"
          domain={[239.6, 844.1]}
          ticks={yTicks}
          allowDataOverflow
          axisLine={false}
          tickLine={false}
          tickSize={0}
          tickMargin={14}
          width={60}
          tick={tickStyle}
        />
        <Legend
          layout="horizontal"
          align="center"
          verticalAlign="middle"
          content={() => <VerdictLegend />}
          wrapperStyle={{ left: 1090, top: 330, width: 250, height: 290 }}
        />
        <Scatter name="suicide" data={toRows(suicide)} fill={COLORS.suicide} shape={dot(COLORS.suicide)} isAnimationActive={false} />
        <Scatter name="accidental" data={toRows(accidental)} fill={COLORS.accidental} shape={dot(COLORS.accidental)} isAnimationActive={false} />
        <Scatter name="natural causes" data={toRows(naturalCauses)} fill={COLORS["natural causes"]} shape={dot(COLORS["natural causes"])} isAnimationActive={false} />
        <Scatter name="undetermined" data={toRows(undetermined)} fill={COLORS.undetermined} shape={dot(COLORS.undetermined)} isAnimationActive={false} />
        <Scatter name="homicide" data={toRows(homicide)} fill={COLORS.homicide} shape={dot(COLORS.homicide)} isAnimationActive={false} />
      </ScatterChart>
      <svg
        width={1344}
        height={960}
        style={{ position: "absolute", left: 0, top: 0, pointerEvents: "none", fontFamily: FONT }}
      >
        <text x={101.5} y={40} fontSize={35} fill="#000">Word counts of inquisitions by verdict 1760-1799</text>
        <text x={579.5} y={939} fontSize={29.5} fill="#000" textAnchor="middle">year of inquest</text>
        <text x={35} y={469} fontSize={29} fill="#000" textAnchor="middle" transform="rotate(-90 35 469)">word count</text>
      </svg>
    </div>
  );
};

export default App;
